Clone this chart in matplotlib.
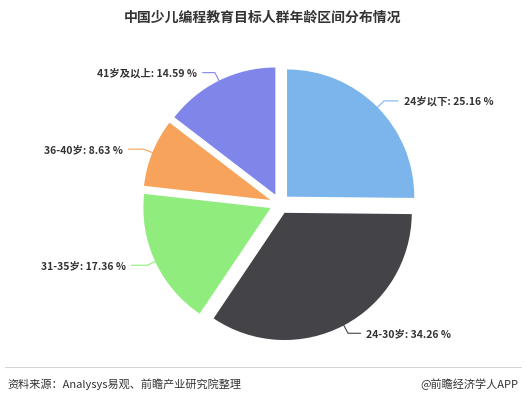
import matplotlib
matplotlib.use("Agg")
import matplotlib.pyplot as plt
import numpy as np

plt.rcParams['font.family'] = ['Noto Sans CJK SC', 'DejaVu Sans']

labels = ["24岁以下", "24-30岁", "31-35岁", "36-40岁", "41岁及以上"]
values = [25.16, 34.26, 17.36, 8.63, 14.59]
colors = ["#7cb5ec", "#434348", "#90ed7d", "#f7a35c", "#8085e9"]

fig = plt.figure(figsize=(5.26, 4.02), dpi=100)
ax = fig.add_axes([0.532 - 0.266, 0.49 - 0.348, 0.532, 0.697])
wedges, _ = ax.pie(values, colors=colors, startangle=90, counterclock=False,
                   explode=[0.08]*5, wedgeprops=dict(linewidth=0))
ax.set_aspect('equal')
ax.set_xlim(-1.1, 1.1); ax.set_ylim(-1.1, 1.1)

for w, lab, v in zip(wedges, labels, values):
    ang = np.deg2rad((w.theta1 + w.theta2) / 2)
    x, y = np.cos(ang), np.sin(ang)
    ha = 'left' if x > 0 else 'right'
    ax.annotate(f"{lab}: {v:.2f} %", xy=(1.05*x, 1.05*y), xytext=(1.2*x + (0.12 if x > 0 else -0.12), 1.15*y),
                ha=ha, va='center', fontsize=7.5, fontweight='bold', color='#333333',
                arrowprops=dict(arrowstyle='-', color=w.get_facecolor(), lw=0.8,
                                connectionstyle='angle,angleA=0,angleB=%d' % (np.rad2deg(ang))))

fig.text(0.5, 0.955, "中国少儿编程教育目标人群年龄区间分布情况", ha='center', va='center',
         fontsize=10, fontweight='bold', color='#333333')
fig.text(0.015, 0.045, "资料来源：Analysys易观、前瞻产业研究院整理", fontsize=8, color='#333333', va='center')
fig.text(0.985, 0.045, "@前瞻经济学人APP", fontsize=8, color='#333333', va='center', ha='right')
fig.add_artist(plt.Line2D([0.01, 0.99], [0.085, 0.085], color='#cccccc', lw=0.6))
fig.savefig("out.png", dpi=100)
